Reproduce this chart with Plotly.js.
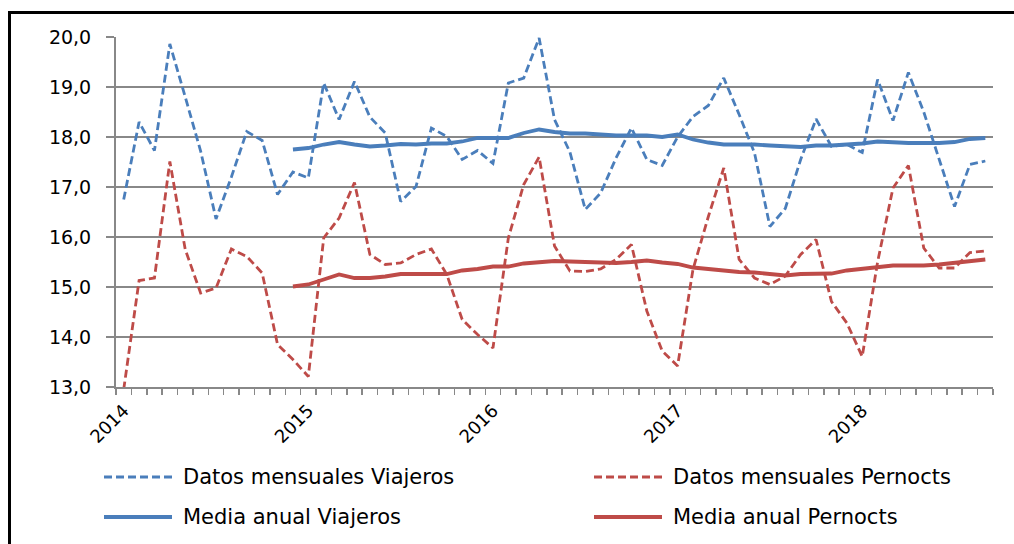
<!DOCTYPE html>
<html>
<head>
<meta charset="utf-8">
<script src="https://cdn.plot.ly/plotly-3.0.1.min.js"></script>
<style>
  html, body { margin: 0; padding: 0; background: #ffffff; }
  #chart { width: 1014px; height: 544px; }
</style>
</head>
<body>
<div id="chart"></div>
<script>
// Months (Jan 2014 - Sep 2018)
const months = [
  "2014-01","2014-02","2014-03","2014-04","2014-05","2014-06","2014-07","2014-08","2014-09","2014-10","2014-11","2014-12",
  "2015-01","2015-02","2015-03","2015-04","2015-05","2015-06","2015-07","2015-08","2015-09","2015-10","2015-11","2015-12",
  "2016-01","2016-02","2016-03","2016-04","2016-05","2016-06","2016-07","2016-08","2016-09","2016-10","2016-11","2016-12",
  "2017-01","2017-02","2017-03","2017-04","2017-05","2017-06","2017-07","2017-08","2017-09","2017-10","2017-11","2017-12",
  "2018-01","2018-02","2018-03","2018-04","2018-05","2018-06","2018-07","2018-08","2018-09"
];

// Year tick labels and the month they sit on
const yearLabels = ["2014", "2015", "2016", "2017", "2018"];
const yearMonths = ["2014-01", "2015-01", "2016-01", "2017-01", "2018-01"];

// Datos mensuales Viajeros
const viajerosMensual = [
  16.75, 18.30, 17.73, 19.86, 18.80, 17.72, 16.36, 17.20, 18.11, 17.93, 16.85, 17.30,
  17.18, 19.08, 18.35, 19.11, 18.40, 18.08, 16.71, 17.01, 18.18, 18.01, 17.55, 17.73,
  17.47, 19.08, 19.18, 19.98, 18.35, 17.70, 16.55, 16.88, 17.58, 18.18, 17.55, 17.43,
  18.00, 18.41, 18.63, 19.18, 18.45, 17.68, 16.21, 16.57, 17.55, 18.36, 17.81, 17.85,
  17.69, 19.15, 18.33, 19.29, 18.50, 17.55, 16.61, 17.45, 17.52
];

// Datos mensuales Pernocts
const pernoctsMensual = [
  12.95, 15.13, 15.18, 17.51, 15.75, 14.88, 14.98, 15.76, 15.61, 15.28, 13.85, 13.55,
  13.21, 15.98, 16.38, 17.09, 15.65, 15.45, 15.48, 15.65, 15.76, 15.25, 14.35, 14.05,
  13.78, 15.98, 17.05, 17.60, 15.82, 15.32, 15.31, 15.36, 15.55, 15.85, 14.52, 13.72,
  13.42, 15.35, 16.41, 17.38, 15.55, 15.18, 15.05, 15.22, 15.65, 15.95, 14.71, 14.28,
  13.61, 15.50, 16.98, 17.43, 15.78, 15.38, 15.38, 15.69, 15.72
];

// Media anual Viajeros (starts Dec 2014)
const viajerosMedia = [
  null, null, null, null, null, null, null, null, null, null, null, 17.75,
  17.78, 17.85, 17.90, 17.85, 17.81, 17.83, 17.86, 17.85, 17.87, 17.87, 17.91, 17.98,
  17.98, 17.98, 18.08, 18.15, 18.10, 18.07, 18.07, 18.05, 18.03, 18.03, 18.03, 18.00,
  18.05, 17.95, 17.89, 17.85, 17.85, 17.85, 17.83, 17.81, 17.80, 17.83, 17.83, 17.85,
  17.87, 17.91, 17.89, 17.88, 17.88, 17.88, 17.90, 17.96, 17.98
];

// Media anual Pernocts (starts Dec 2014)
const pernoctsMedia = [
  null, null, null, null, null, null, null, null, null, null, null, 15.01,
  15.05, 15.15, 15.25, 15.18, 15.18, 15.21, 15.26, 15.26, 15.26, 15.26, 15.33, 15.36,
  15.41, 15.41, 15.47, 15.50, 15.52, 15.51, 15.50, 15.48, 15.48, 15.50, 15.53, 15.49,
  15.46, 15.39, 15.36, 15.33, 15.30, 15.29, 15.26, 15.23, 15.26, 15.27, 15.27, 15.33,
  15.36, 15.40, 15.43, 15.43, 15.43, 15.45, 15.48, 15.51, 15.55
];

const seriesNames = ["Datos mensuales Viajeros", "Datos mensuales Pernocts", "Media anual Viajeros", "Media anual Pernocts"];

const BLUE = "#4A7EBB";
const RED = "#BE4B48";
const GRID = "#888888";
const DASH = "8px,4px";
const DW = 2.8;   // dashed width
const SW = 3.8;   // solid width

const xIdx = months.map((m, i) => i);
const yearTickVals = yearMonths.map(m => months.indexOf(m));

const traces = [
  { x: xIdx, y: viajerosMensual, name: seriesNames[0], type: "scatter", mode: "lines",
    line: { color: BLUE, width: DW, dash: DASH }, showlegend: false, hoverinfo: "y" },
  { x: xIdx, y: pernoctsMensual, name: seriesNames[1], type: "scatter", mode: "lines",
    line: { color: RED, width: DW, dash: DASH }, showlegend: false, hoverinfo: "y" },
  { x: xIdx, y: viajerosMedia, name: seriesNames[2], type: "scatter", mode: "lines",
    line: { color: BLUE, width: SW }, showlegend: false, hoverinfo: "y" },
  { x: xIdx, y: pernoctsMedia, name: seriesNames[3], type: "scatter", mode: "lines",
    line: { color: RED, width: SW }, showlegend: false, hoverinfo: "y" }
];

// Plot-area geometry in pixels (for placing the hand-made legend and frame)
const W = 1014, H = 544;
const M = { l: 116, r: 21, t: 37, b: 157 };
const PW = W - M.l - M.r, PH = H - M.t - M.b;
const px = v => (v - M.l) / PW;
const py = v => (H - M.b - v) / PH;

const legendItems = [
  { name: seriesNames[0], color: BLUE, dash: DASH, width: DW, x0: 104, x1: 172, tx: 181, y: 477 },
  { name: seriesNames[1], color: RED,  dash: DASH, width: DW, x0: 594, x1: 662, tx: 671, y: 477 },
  { name: seriesNames[2], color: BLUE, dash: "solid", width: SW, x0: 104, x1: 172, tx: 181, y: 517 },
  { name: seriesNames[3], color: RED,  dash: "solid", width: SW, x0: 594, x1: 662, tx: 671, y: 517 }
];

const shapes = [
  // outer chart frame
  { type: "rect", xref: "paper", yref: "paper",
    x0: px(9.5), x1: px(1030), y0: py(560), y1: py(12.5),
    line: { color: "#000000", width: 3 }, fillcolor: "rgba(0,0,0,0)", layer: "above" }
];
const annotations = [];
legendItems.forEach(it => {
  shapes.push({ type: "line", xref: "paper", yref: "paper",
    x0: px(it.x0), x1: px(it.x1), y0: py(it.y), y1: py(it.y),
    line: { color: it.color, width: it.width, dash: it.dash } });
  annotations.push({ xref: "paper", yref: "paper", x: px(it.tx), y: py(it.y),
    xanchor: "left", yanchor: "middle", showarrow: false, text: it.name,
    font: { family: "DejaVu Sans", size: 21, color: "#000000" } });
});

const layout = {
  width: W, height: H,
  margin: M,
  paper_bgcolor: "#ffffff",
  plot_bgcolor: "#ffffff",
  separators: ",.",
  showlegend: false,
  font: { family: "DejaVu Sans", size: 19, color: "#000000" },
  xaxis: {
    range: [-0.5, months.length - 0.5],
    tickmode: "array",
    tickvals: yearTickVals,
    ticktext: yearLabels,
    tickangle: -45,
    ticks: "",
    showgrid: false,
    zeroline: false,
    showline: true,
    linecolor: GRID,
    linewidth: 2,
    ticklabelstandoff: 4,
    tickfont: { family: "DejaVu Sans", size: 18, color: "#000000" },
    minor: { tickmode: "linear", tick0: -0.5, dtick: 1, ticks: "outside", ticklen: 6, tickcolor: GRID, tickwidth: 1.5, showgrid: false }
  },
  yaxis: {
    range: [13, 20],
    tickmode: "linear",
    tick0: 13,
    dtick: 1,
    tickformat: ".1f",
    ticks: "outside",
    ticklen: 8,
    tickcolor: GRID,
    tickwidth: 1.5,
    showgrid: true,
    gridcolor: GRID,
    gridwidth: 1.5,
    zeroline: false,
    showline: true,
    linecolor: GRID,
    linewidth: 2,
    ticklabelstandoff: 11,
    tickfont: { family: "DejaVu Sans", size: 19, color: "#000000" }
  },
  shapes: shapes,
  annotations: annotations
};

Plotly.newPlot("chart", traces, layout, { displayModeBar: false, staticPlot: true });
</script>
</body>
</html>
